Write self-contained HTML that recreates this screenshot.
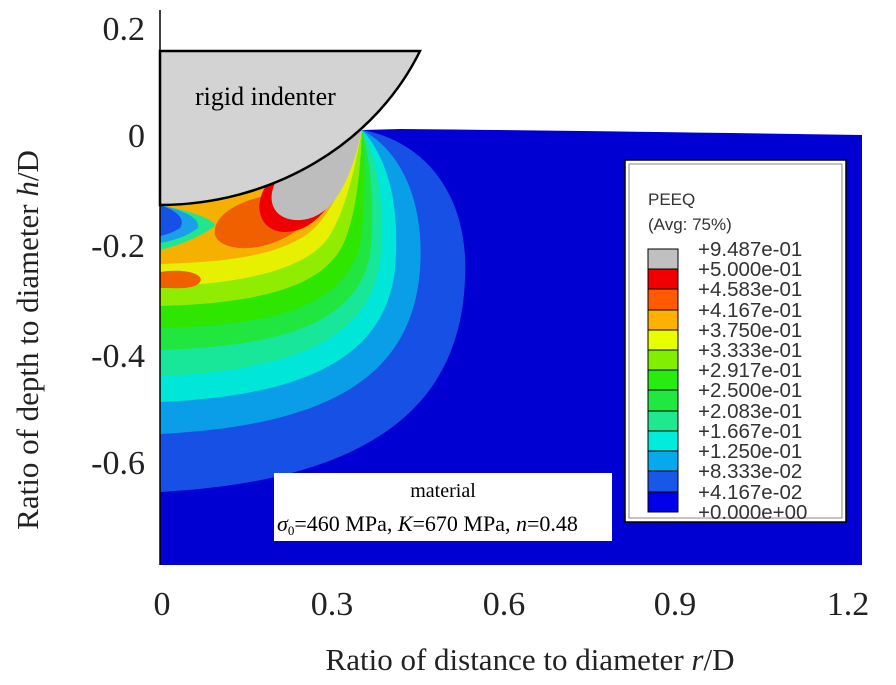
<!DOCTYPE html>
<html><head><meta charset="utf-8"><style>
body{margin:0;background:#fff;}
svg{display:block;}
</style></head><body>
<svg width="896" height="685" viewBox="0 0 896 685" xmlns="http://www.w3.org/2000/svg">
<defs>
<clipPath id="body"><path d="M160,205 A286,260 0 0 0 362,130 L400,129 Q600,131 862,135 L862,565 L160,565 Z"/></clipPath>
</defs>
<rect x="0" y="0" width="896" height="685" fill="#fff"/>
<g clip-path="url(#body)">
<rect x="160" y="120" width="702" height="450" fill="#0000d2"/>
<path d="M362,130 C420,140 470,190 465,280 C460,400 380,480 160,492 L160,120 Z" fill="#1650e4"/>
<path d="M362,130 C400,150 425,200 420,270 C412,370 340,425 160,434 L160,120 Z" fill="#0a9ee8"/>
<path d="M362,130 C390,160 400,210 395,270 C385,350 320,395 160,402 L160,120 Z" fill="#00e6d8"/>
<path d="M362,130 C380,165 385,210 380,262 C370,330 310,370 160,376 L160,120 Z" fill="#18e698"/>
<path d="M362,130 C372,170 375,210 370,255 C358,315 300,346 160,350 L160,120 Z" fill="#22e640"/>
<path d="M362,130 C366,175 365,210 360,245 C345,300 290,325 160,328 L160,120 Z" fill="#2ee600"/>
<path d="M362,130 C360,180 355,215 345,240 C328,283 270,303 160,306 L160,120 Z" fill="#90ec00"/>
<path d="M362,130 C352,185 342,215 330,235 C312,265 255,284 160,286 L160,120 Z" fill="#e6f000"/>
<path d="M362,130 C345,190 325,220 310,232 C280,255 230,262 160,264 L160,120 Z" fill="#f6b000"/>
<path d="M362,130 C340,185 320,215 290,235 C255,255 220,250 215,235 C212,215 240,200 270,195 Z" fill="#f06000"/>
<path d="M362,130 C345,190 320,232 285,232 C260,232 250,205 270,180 Z" fill="#ee0000"/>
<path d="M362,130 C350,185 330,222 295,220 C270,218 265,195 280,175 Z" fill="#bdbdbd"/>
<path d="M160,272 C185,268 205,274 200,282 C195,290 175,288 160,288 Z" fill="#f06000"/>
<path d="M160,205 C195,212 215,220 215,226 C195,240 175,246 160,250 Z" fill="#20e690"/>
<path d="M160,205 C190,212 200,220 198,228 C185,238 170,241 160,243 Z" fill="#1aa0e8"/>
<path d="M160,205 C180,212 185,220 180,228 C172,233 165,235 160,236 Z" fill="#1650e4"/>
</g>
<path d="M160,51 L420,51 A286,260 0 0 1 160,205 Z" fill="#d3d3d3" stroke="#000" stroke-width="2.5"/>
<line x1="160" y1="10" x2="160" y2="565" stroke="#000" stroke-width="1.5"/>
<text x="195" y="105" font-family="Liberation Serif, serif" font-size="26">rigid indenter</text>
<!-- material box -->
<rect x="274" y="473" width="338" height="68" fill="#fff"/>
<text x="443" y="497" text-anchor="middle" font-family="Liberation Serif, serif" font-size="20">material</text>
<text x="277" y="531" font-family="Liberation Serif, serif" font-size="22"><tspan font-style="italic">σ</tspan><tspan font-size="13" dy="4">0</tspan><tspan dy="-4">=460 MPa, </tspan><tspan font-style="italic">K</tspan>=670 MPa, <tspan font-style="italic">n</tspan>=0.48</text>
<!-- legend -->
<rect x="625" y="160" width="221" height="362" fill="#fff" stroke="#000" stroke-width="1.5"/>
<rect x="629" y="164" width="213" height="354" fill="none" stroke="#888" stroke-width="1"/>
<text x="648" y="205" font-family="Liberation Sans, sans-serif" font-size="17" fill="#333">PEEQ</text>
<text x="648" y="230" font-family="Liberation Sans, sans-serif" font-size="17" fill="#333">(Avg: 75%)</text>
<g stroke="#000" stroke-width="1">
<rect x="648" y="249" width="30" height="20" fill="#c0c0c0"/>
<rect x="648" y="269" width="30" height="20" fill="#f00000"/>
<rect x="648" y="289" width="30" height="21" fill="#ff5a00"/>
<rect x="648" y="310" width="30" height="20" fill="#ffb000"/>
<rect x="648" y="330" width="30" height="20" fill="#e8ff00"/>
<rect x="648" y="350" width="30" height="20" fill="#80f000"/>
<rect x="648" y="370" width="30" height="20" fill="#28ec10"/>
<rect x="648" y="390" width="30" height="21" fill="#20e840"/>
<rect x="648" y="411" width="30" height="20" fill="#20e890"/>
<rect x="648" y="431" width="30" height="20" fill="#00ecdc"/>
<rect x="648" y="451" width="30" height="20" fill="#08a8ec"/>
<rect x="648" y="471" width="30" height="21" fill="#1858e8"/>
<rect x="648" y="492" width="30" height="20" fill="#0000e8"/>
</g>
<g font-family="Liberation Sans, sans-serif" font-size="20.5" fill="#333">
<text x="698" y="256">+9.487e-01</text>
<text x="698" y="276">+5.000e-01</text>
<text x="698" y="296">+4.583e-01</text>
<text x="698" y="317">+4.167e-01</text>
<text x="698" y="337">+3.750e-01</text>
<text x="698" y="357">+3.333e-01</text>
<text x="698" y="377">+2.917e-01</text>
<text x="698" y="397">+2.500e-01</text>
<text x="698" y="418">+2.083e-01</text>
<text x="698" y="438">+1.667e-01</text>
<text x="698" y="458">+1.250e-01</text>
<text x="698" y="478">+8.333e-02</text>
<text x="698" y="499">+4.167e-02</text>
<text x="698" y="519">+0.000e+00</text>
</g>
<!-- axes labels -->
<g font-family="Liberation Serif, serif" font-size="34" fill="#222">
<text x="145" y="40" text-anchor="end">0.2</text>
<text x="145" y="147" text-anchor="end">0</text>
<text x="145" y="257" text-anchor="end">-0.2</text>
<text x="145" y="367" text-anchor="end">-0.4</text>
<text x="145" y="474" text-anchor="end">-0.6</text>
<text x="162" y="615" text-anchor="middle">0</text>
<text x="332" y="615" text-anchor="middle">0.3</text>
<text x="504" y="615" text-anchor="middle">0.6</text>
<text x="675" y="615" text-anchor="middle">0.9</text>
<text x="848" y="615" text-anchor="middle">1.2</text>
</g>
<text x="530" y="670" text-anchor="middle" font-family="Liberation Serif, serif" font-size="31" fill="#222">Ratio of distance to diameter <tspan font-style="italic">r</tspan>/D</text>
<text transform="translate(38,340) rotate(-90)" text-anchor="middle" font-family="Liberation Serif, serif" font-size="31" fill="#222">Ratio of depth to diameter <tspan font-style="italic">h</tspan>/D</text>
</svg>
</body></html>
